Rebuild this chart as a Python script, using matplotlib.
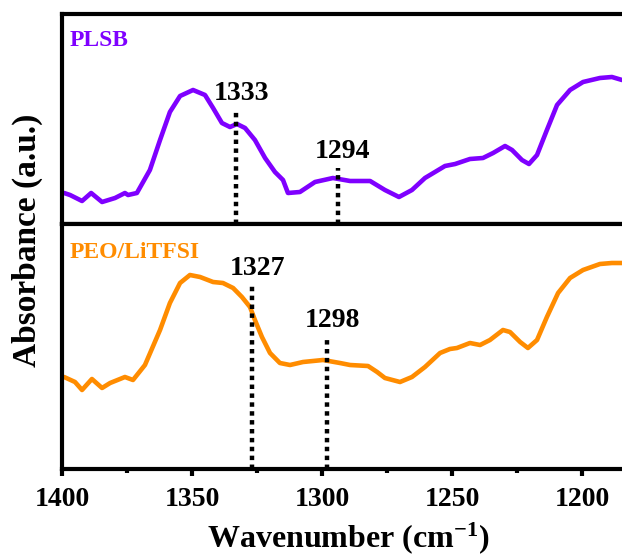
import matplotlib
matplotlib.use("Agg")
import matplotlib.pyplot as plt

# FTIR spectra, 1400-1180 cm-1
wn_plsb = [1399.2, 1396.9, 1392.3, 1388.8, 1384.6, 1379.6, 1375.8, 1374.6, 1371.2,
           1366.2, 1362.3, 1358.5, 1354.6, 1349.6, 1345.0, 1341.9, 1338.5, 1335.4,
           1332.7, 1329.6, 1325.8, 1321.9, 1318.1, 1315.0, 1313.1, 1308.5, 1302.7,
           1295.8, 1289.2, 1281.5, 1275.8, 1270.4, 1265.4, 1260.4, 1252.7, 1248.8,
           1243.1, 1238.1, 1234.2, 1229.6, 1226.9, 1223.1, 1220.4, 1217.3, 1213.5,
           1209.6, 1204.6, 1199.6, 1193.1, 1188.5, 1184.6]
abs_plsb = [0.31, 0.29, 0.23, 0.31, 0.22, 0.26, 0.31, 0.29, 0.31,
            0.54, 0.84, 1.12, 1.28, 1.34, 1.29, 1.16, 1.01, 0.97,
            1.00, 0.96, 0.84, 0.66, 0.52, 0.44, 0.31, 0.32, 0.42,
            0.46, 0.43, 0.43, 0.34, 0.27, 0.34, 0.46, 0.58, 0.60,
            0.65, 0.66, 0.71, 0.78, 0.74, 0.64, 0.60, 0.69, 0.94,
            1.19, 1.34, 1.42, 1.46, 1.47, 1.44]

wn_peo = [1399.2, 1395.0, 1392.3, 1388.5, 1384.6, 1381.5, 1375.8, 1372.7, 1368.1,
          1362.3, 1358.5, 1354.6, 1350.8, 1346.9, 1341.9, 1338.1, 1334.2, 1330.8,
          1327.7, 1325.8, 1323.1, 1320.0, 1316.2, 1312.3, 1307.3, 1299.6, 1293.1,
          1289.2, 1282.3, 1278.8, 1275.8, 1270.0, 1265.4, 1260.4, 1254.6, 1250.8,
          1248.1, 1243.1, 1239.2, 1235.4, 1230.4, 1227.7, 1223.8, 1220.8, 1217.3,
          1213.5, 1209.2, 1204.6, 1199.6, 1193.1, 1188.5, 1184.6]
abs_peo = [0.92, 0.87, 0.79, 0.90, 0.81, 0.86, 0.92, 0.89, 1.04,
           1.39, 1.66, 1.86, 1.94, 1.92, 1.87, 1.86, 1.81, 1.72,
           1.62, 1.49, 1.32, 1.16, 1.06, 1.04, 1.07, 1.09, 1.06,
           1.04, 1.03, 0.97, 0.91, 0.87, 0.92, 1.02, 1.16, 1.20,
           1.21, 1.26, 1.24, 1.29, 1.39, 1.37, 1.27, 1.21, 1.29,
           1.52, 1.76, 1.91, 1.99, 2.05, 2.06, 2.06]

# marked peaks and the height of their dotted markers
peaks_plsb = [1333, 1294]
tops_plsb = [1.14, 0.56]
peaks_peo = [1327, 1298]
tops_peo = [1.84, 1.32]

purple = "#7f00ff"
orange = "#ff8c00"
serif = "Liberation Serif"

plt.rcParams["font.family"] = serif
plt.rcParams["font.weight"] = "bold"
plt.rcParams["mathtext.fontset"] = "custom"
plt.rcParams["mathtext.rm"] = serif + ":bold"
plt.rcParams["mathtext.it"] = serif + ":bold"
plt.rcParams["mathtext.bf"] = serif + ":bold"


def style(ax):
    for s in ax.spines.values():
        s.set_linewidth(3)
    ax.set_xlim(1400, 1180)
    ax.set_yticks([])


def main():
    fig = plt.figure(figsize=(6.22, 5.6), dpi=100)
    ax1 = fig.add_axes([0.0997, 0.6, 0.9196, 0.375])
    ax2 = fig.add_axes([0.0997, 0.1625, 0.9196, 0.4375])

    # top panel: PLSB
    ax1.plot(wn_plsb, abs_plsb, color=purple, lw=3.3, solid_joinstyle="round",
             solid_capstyle="round")
    ax1.set_ylim(0, 2.10)
    for p, t in zip(peaks_plsb, tops_plsb):
        ax1.plot([p, p], [0, t], color="black", lw=3.2, ls=(0, (1, 1)))
        ax1.text(p - 2, t + 0.04, str(p), ha="center", va="bottom",
                 fontsize=20, fontweight="bold")
    ax1.text(0.014, 0.875, "PLSB", transform=ax1.transAxes, color=purple,
             fontsize=17, fontweight="bold", va="center")
    style(ax1)
    ax1.tick_params(axis="x", bottom=False, labelbottom=False)

    # bottom panel: PEO/LiTFSI
    ax2.plot(wn_peo, abs_peo, color=orange, lw=3.3, solid_joinstyle="round",
             solid_capstyle="round")
    ax2.set_ylim(0, 2.45)
    for p, t in zip(peaks_peo, tops_peo):
        ax2.plot([p, p], [0, t], color="black", lw=3.2, ls=(0, (1, 1)))
        ax2.text(p - 2, t + 0.04, str(p), ha="center", va="bottom",
                 fontsize=20, fontweight="bold")
    ax2.text(0.014, 0.885, "PEO/LiTFSI", transform=ax2.transAxes, color=orange,
             fontsize=17, fontweight="bold", va="center")
    style(ax2)
    ax2.set_xticks([1400, 1350, 1300, 1250, 1200])
    ax2.set_xticks([1375, 1325, 1275, 1225], minor=True)
    ax2.tick_params(axis="x", which="major", direction="out", length=5, width=3,
                    labelsize=20, pad=8)
    ax2.tick_params(axis="x", which="minor", direction="out", length=3, width=3)
    ax2.set_xlabel(r"Wavenumber (cm$^{-1}$)", fontsize=23, fontweight="bold",
                   labelpad=6)

    fig.text(0.044, 0.571, "Absorbance (a.u.)", rotation=90, ha="center",
             va="center", fontsize=24, fontweight="bold")

    fig.savefig("out.png", dpi=100)
    plt.close(fig)


if __name__ == "__main__":
    main()
